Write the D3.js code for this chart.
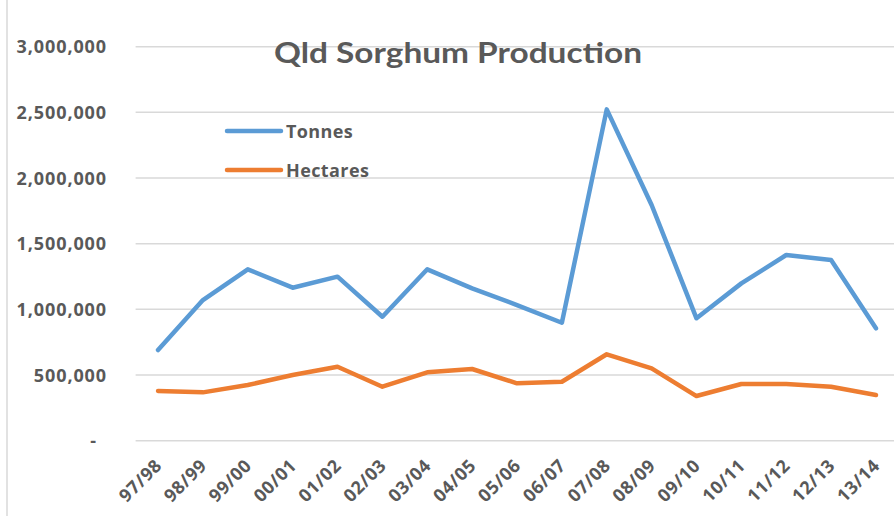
<!DOCTYPE html>
<html>
<head>
<meta charset="utf-8">
<script src="https://cdn.jsdelivr.net/npm/d3@7"></script>
<style>
  body { margin: 0; background: #fff; }
  text { font-family: "Open Sans", sans-serif; font-weight: bold; fill: #595959; }
</style>
</head>
<body>
<div id="chart"></div>
<script>
const seasons = ["97/98", "98/99", "99/00", "00/01", "01/02", "02/03", "03/04", "04/05", "05/06",
  "06/07", "07/08", "08/09", "09/10", "10/11", "11/12", "12/13", "13/14"];
const tonnes = [690000, 1071000, 1305000, 1165000, 1249000, 944000, 1305000, 1160000, 1033000,
  898000, 2523000, 1795000, 932000, 1198000, 1414000, 1376000, 856000];
const hectares = [378000, 368000, 424000, 500000, 563000, 411000, 521000, 546000, 437000,
  449000, 658000, 551000, 340000, 432000, 432000, 411000, 348000];
const yTicks = [0, 500000, 1000000, 1500000, 2000000, 2500000, 3000000];

const width = 894;
const height = 516;
const margin = { top: 46.7, right: -4.4, bottom: 75.3, left: 135.6 };

const svg = d3.select('#chart')
  .append('svg')
    .attr('width', width)
    .attr('height', height);

// chart area border on the left
svg.append('line')
  .attr('x1', 7).attr('x2', 7)
  .attr('y1', 0).attr('y2', height)
  .attr('stroke', '#d9d9d9')
  .attr('stroke-width', 1.5);

const x = d3.scaleBand()
  .domain(seasons)
  .range([margin.left, width - margin.right]);

const y = d3.scaleLinear()
  .domain([0, 3000000])
  .range([height - margin.bottom, margin.top]);

// gridlines
svg.append('g')
  .selectAll('line')
  .data(yTicks)
  .join('line')
    .attr('x1', margin.left)
    .attr('x2', width)
    .attr('y1', d => y(d))
    .attr('y2', d => y(d))
    .attr('stroke', '#d9d9d9')
    .attr('stroke-width', 1.5);

// y labels
const fmt = d3.format(',');
svg.append('g')
  .selectAll('text')
  .data(yTicks)
  .join('text')
    .attr('x', d => d === 0 ? 97 : 107)
    .attr('y', d => y(d) + 6.5)
    .attr('text-anchor', 'end')
    .style('font-size', '18px')
    .style('letter-spacing', '0.9px')
    .text(d => d === 0 ? '-' : fmt(d));

// x labels
svg.append('g')
  .selectAll('text')
  .data(seasons)
  .join('text')
    .attr('transform', d => `translate(${x(d) + x.bandwidth() / 2 + 5},${y(0) + 26}) rotate(-45)`)
    .attr('text-anchor', 'end')
    .style('font-size', '18px')
    .style('letter-spacing', '0.6px')
    .text(d => d);

const line = d3.line()
  .x((d, i) => x(seasons[i]) + x.bandwidth() / 2)
  .y(d => y(d));

const series = [
  { name: 'Tonnes', values: tonnes, color: '#5b9bd5' },
  { name: 'Hectares', values: hectares, color: '#ed7d31' }
];

svg.append('g')
  .selectAll('path')
  .data(series)
  .join('path')
    .attr('d', d => line(d.values))
    .attr('fill', 'none')
    .attr('stroke', d => d.color)
    .attr('stroke-width', 4.5)
    .attr('stroke-linejoin', 'round')
    .attr('stroke-linecap', 'round');

// title
svg.append('text')
  .attr('x', 458)
  .attr('y', 62.5)
  .attr('text-anchor', 'middle')
  .attr('textLength', 368)
  .attr('lengthAdjust', 'spacingAndGlyphs')
  .style('font-family', 'Lato, sans-serif')
  .style('font-size', '29px')
  .text('Qld Sorghum Production');

// legend
const legend = svg.append('g')
  .selectAll('g')
  .data(series)
  .join('g')
    .attr('transform', (d, i) => `translate(227,${131 + i * 39})`);

legend.append('line')
  .attr('x1', 0).attr('x2', 54)
  .attr('stroke', d => d.color)
  .attr('stroke-width', 4.5)
  .attr('stroke-linecap', 'round');

legend.append('text')
  .attr('x', 59)
  .attr('y', 6.5)
  .style('font-size', '18px')
  .style('letter-spacing', '0.4px')
  .text(d => d.name);
</script>
</body>
</html>
